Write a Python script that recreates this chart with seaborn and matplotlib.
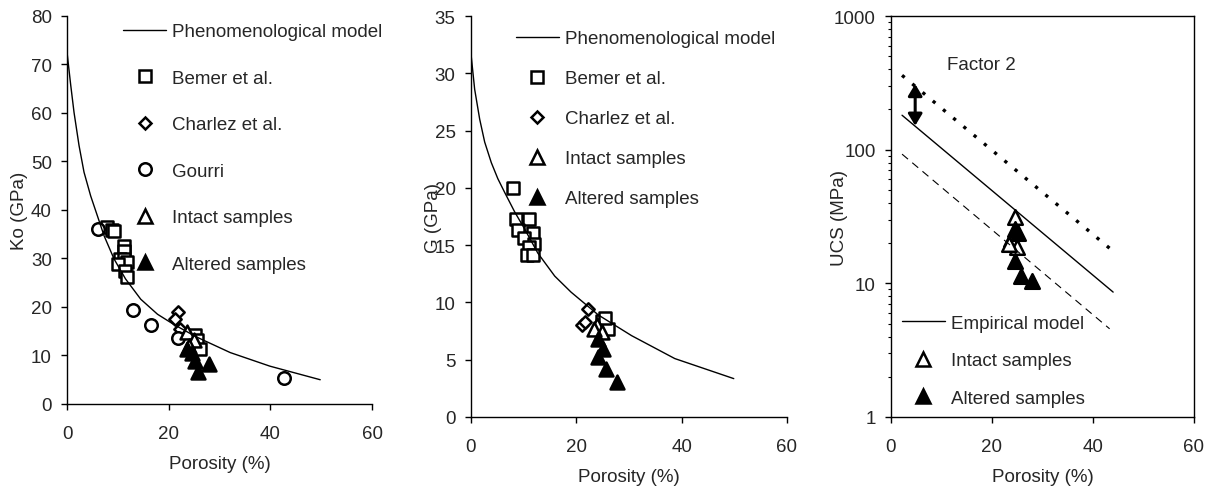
import matplotlib
matplotlib.use("Agg")
import matplotlib.pyplot as plt
from matplotlib.lines import Line2D
import numpy as np
import pandas as pd
import seaborn as sns

# ---- data ----
# Panel a : bulk modulus Ko vs porosity
ko_model_phi = [0, 0.72, 1.38, 2.36, 3.34, 4.65, 5.97, 7.28, 9.25, 11.5, 14.5,
                17.8, 21.0, 25.5, 32.1, 39.9, 49.8]
ko_model = [72.5, 65.8, 60.1, 53.3, 47.8, 42.9, 38.8, 34.7, 29.9, 25.8, 21.6,
            18.5, 16.4, 13.8, 10.6, 7.8, 5.0]
bemer_k_phi = [7.8, 8.8, 9.3, 11.3, 11.3, 10.4, 11.3, 11.7, 10.1, 11.4, 11.7, 25.2, 25.5, 26.2]
bemer_k = [36.4, 35.9, 35.6, 32.6, 31.6, 29.9, 29.9, 29.2, 28.9, 27.5, 26.1, 14.2, 13.1, 11.3]
charlez_k_phi = [21.9, 21.2, 22.2]
charlez_k = [19.0, 17.6, 15.5]
gourri_phi = [6.1, 12.9, 16.5, 21.8, 42.7]
gourri_k = [36.0, 19.4, 16.3, 13.7, 5.4]
intact_k_phi = [23.5, 24.9, 23.9]
intact_k = [14.8, 13.1, 12.0]
altered_k_phi = [23.5, 24.5, 25.2, 25.8, 27.9]
altered_k = [11.3, 10.6, 8.9, 6.5, 8.2]

# Panel b : shear modulus G vs porosity
g_model_phi = [0, 0.7, 1.65, 2.6, 3.86, 5.1, 6.4, 8.3, 10.2, 12.7, 15.9, 19.0,
               21.6, 24.2, 30.5, 38.7, 49.9]
g_model = [31.7, 28.6, 26.0, 24.0, 22.2, 20.8, 19.6, 17.9, 16.4, 14.3, 12.3, 10.9,
           9.9, 8.9, 7.1, 5.1, 3.35]
bemer_g_phi = [7.9, 8.5, 11.1, 8.9, 11.8, 10.1, 11.9, 11.1, 10.6, 11.8, 24.9, 26.1, 25.5]
bemer_g = [20.0, 17.3, 17.3, 16.3, 16.1, 15.6, 15.1, 14.8, 14.1, 14.1, 8.4, 7.7, 8.6]
charlez_g_phi = [22.2, 21.1, 21.7]
charlez_g = [9.4, 8.0, 8.3]
intact_g_phi = [23.9, 24.8, 23.4]
intact_g = [8.0, 7.4, 7.7]
altered_g_phi = [24.2, 25.0, 24.2, 25.6, 27.8]
altered_g = [6.8, 5.9, 5.2, 4.2, 3.05]

# Panel c : UCS vs porosity (log scale)
emp_phi = [2.2, 44.0]
emp_ucs = [181, 8.6]
bound_phi = [2.2, 43.3]
upper_ucs = [360, 18.3]
lower_ucs = [92.6, 4.57]
intact_ucs_phi = [24.6, 23.7, 24.9, 23.3]
intact_ucs = [31.2, 21.5, 18.6, 19.8]
altered_ucs_phi = [24.6, 25.2, 24.6, 25.7, 27.9]
altered_ucs = [25.5, 24.0, 14.8, 11.4, 10.5]
arrow_phi = 4.8
arrow_ucs = [310, 151]

FS = 13.5
EW = 1.8

sns.set_style("white")
plt.rcParams["font.family"] = ["Liberation Sans", "DejaVu Sans"]
plt.rcParams["axes.edgecolor"] = "black"
plt.rcParams["axes.linewidth"] = 1.0

fig = plt.figure(figsize=(12.12, 4.89), dpi=100)
ax1 = fig.add_axes([0.0553, 0.1718, 0.2517, 0.7935])
ax2 = fig.add_axes([0.3886, 0.1452, 0.2607, 0.8200])
ax3 = fig.add_axes([0.7351, 0.1452, 0.2500, 0.8200])


def pts(ax, x, y, marker, size, filled=False):
    sns.scatterplot(x=x, y=y, ax=ax, marker=marker, s=size ** 2,
                    color="black" if filled else "white",
                    edgecolor="black", linewidth=EW, zorder=3, legend=False)


def model(ax, x, y, **kw):
    sns.lineplot(x=x, y=y, ax=ax, color="black", sort=False, estimator=None,
                 zorder=4, legend=False, **kw)


def style(ax, ylabel, lab_x):
    ax.tick_params(axis="both", which="major", direction="out", bottom=True, left=True,
                   length=4, width=1, labelsize=FS, color="black")
    ax.tick_params(axis="x", pad=11)
    ax.tick_params(axis="y", pad=7)
    ax.set_xlabel("Porosity (%)", fontsize=FS, labelpad=9.5)
    ax.set_ylabel(ylabel, fontsize=FS)
    ax.yaxis.set_label_coords(lab_x, 0.5)
    ax.set_xlim(0, 60)
    ax.set_xticks([0, 20, 40, 60])


def handle(marker, size, filled=False):
    return Line2D([], [], linestyle="none", marker=marker, markersize=size,
                  markerfacecolor="black" if filled else "white",
                  markeredgecolor="black", markeredgewidth=EW)


line_h = Line2D([], [], color="black", linewidth=1)

SQ, DI, CI, TR = 8, 6.3, 9, 10

# ---- panel a ----
pts(ax1, bemer_k_phi, bemer_k, "s", SQ)
pts(ax1, charlez_k_phi, charlez_k, "D", DI)
pts(ax1, gourri_phi, gourri_k, "o", CI)
pts(ax1, intact_k_phi, intact_k, "^", TR)
pts(ax1, altered_k_phi, altered_k, "^", TR, filled=True)
model(ax1, ko_model_phi, ko_model, linewidth=1)
style(ax1, "Ko (GPa)", -0.128)
ax1.set_ylim(0, 80)
ax1.set_yticks(range(0, 81, 10))
sns.despine(ax=ax1)
ax1.legend([line_h, handle("s", SQ), handle("D", DI), handle("o", CI),
            handle("^", TR), handle("^", TR, True)],
           ["Phenomenological model", "Bemer et al.", "Charlez et al.", "Gourri",
            "Intact samples", "Altered samples"],
           loc="upper left", bbox_to_anchor=(0.184, 0.982), frameon=False,
           fontsize=FS, handlelength=2.3, handletextpad=0.3, labelspacing=1.57,
           borderpad=0, borderaxespad=0)

# ---- panel b ----
pts(ax2, bemer_g_phi, bemer_g, "s", SQ)
pts(ax2, charlez_g_phi, charlez_g, "D", DI)
pts(ax2, intact_g_phi, intact_g, "^", TR)
pts(ax2, altered_g_phi, altered_g, "^", TR, filled=True)
model(ax2, g_model_phi, g_model, linewidth=1)
style(ax2, "G (GPa)", -0.092)
ax2.set_ylim(0, 35)
ax2.set_yticks(range(0, 36, 5))
sns.despine(ax=ax2)
ax2.legend([line_h, handle("s", SQ), handle("D", DI), handle("^", TR),
            handle("^", TR, True)],
           ["Phenomenological model", "Bemer et al.", "Charlez et al.",
            "Intact samples", "Altered samples"],
           loc="upper left", bbox_to_anchor=(0.142, 0.965), frameon=False,
           fontsize=FS, handlelength=2.3, handletextpad=0.3, labelspacing=1.22,
           borderpad=0, borderaxespad=0)

# ---- panel c ----
model(ax3, emp_phi, emp_ucs, linewidth=1)
model(ax3, bound_phi, upper_ucs, linewidth=2.4, dashes=(1, 3))
model(ax3, bound_phi, lower_ucs, linewidth=0.8, dashes=(7, 5))
pts(ax3, intact_ucs_phi, intact_ucs, "^", 10.5)
pts(ax3, altered_ucs_phi, altered_ucs, "^", 10.5, filled=True)
ax3.annotate("", xy=(arrow_phi, arrow_ucs[0]), xytext=(arrow_phi, arrow_ucs[1]),
             arrowprops=dict(arrowstyle="<|-|>,head_length=0.7,head_width=0.42",
                             color="black", linewidth=2.2, shrinkA=0, shrinkB=0),
             zorder=5)
ax3.text(11.1, 436, "Factor 2", fontsize=FS, va="center", ha="left")
ax3.set_yscale("log")
ax3.set_ylim(1, 1000)
ax3.set_yticks([1, 10, 100, 1000])
ax3.set_yticklabels(["1", "10", "100", "1000"])
style(ax3, "UCS (MPa)", -0.142)
ax3.tick_params(axis="y", which="minor", direction="out", left=True, length=2.5,
                width=0.8, color="black")
for sp in ax3.spines.values():
    sp.set_visible(True)
    sp.set_color("black")
ax3.legend([line_h, handle("^", 10.5), handle("^", 10.5, True)],
           ["Empirical model", "Intact samples", "Altered samples"],
           loc="upper left", bbox_to_anchor=(0.036, 0.255), frameon=False,
           fontsize=FS, handlelength=2.3, handletextpad=0.3, labelspacing=1.09,
           borderpad=0, borderaxespad=0)

fig.savefig("out.png", dpi=100, facecolor="white")
